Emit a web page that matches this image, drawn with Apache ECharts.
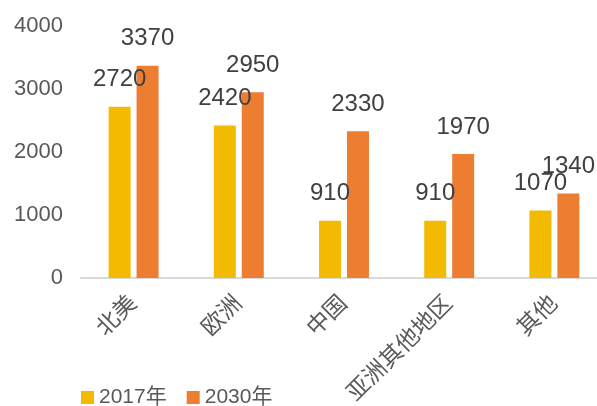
<!DOCTYPE html>
<html>
<head>
<meta charset="utf-8">
<script src="https://cdn.jsdelivr.net/npm/echarts@6/dist/echarts.min.js"></script>
<style>
  html, body { margin: 0; padding: 0; background: #fff; }
  #chart { width: 597px; height: 406px; }
</style>
</head>
<body>
<div id="chart"></div>
<script>
const categories = ["北美", "欧洲", "中国", "亚洲其他地区", "其他"];
const values2017 = [2720, 2420, 910, 910, 1070];
const values2030 = [3370, 2950, 2330, 1970, 1340];
const yTicks = [0, 1000, 2000, 3000, 4000];

const font = "Liberation Sans, Arial, Noto Sans CJK SC, sans-serif";

const chart = echarts.init(document.getElementById("chart"));

const labelStyle = {
  show: true,
  position: "top",
  distance: 15,
  fontSize: 24,
  color: "#404040",
  fontFamily: font
};

chart.setOption({
  animation: false,
  textStyle: { fontFamily: font },
  grid: {
    left: 81, top: 26, right: -10, bottom: 128,
    containLabel: false,
    outerBoundsMode: "none"
  },
  legend: {
    left: 81,
    top: 387,
    padding: 0,
    itemWidth: 13,
    itemHeight: 13,
    itemGap: 20,
    icon: "rect",
    textStyle: { fontSize: 21, color: "#595959", fontFamily: font },
    data: ["2017年", "2030年"]
  },
  xAxis: {
    type: "category",
    data: categories,
    axisLine: { lineStyle: { color: "#d9d9d9", width: 2 } },
    axisTick: { show: false },
    axisLabel: {
      rotate: 45,
      interval: 0,
      margin: 22,
      fontSize: 23,
      color: "#595959",
      fontFamily: font
    }
  },
  yAxis: {
    type: "value",
    min: yTicks[0],
    max: yTicks[yTicks.length - 1],
    interval: 1000,
    splitLine: { show: false },
    axisLine: { show: false },
    axisTick: { show: false },
    axisLabel: {
      margin: 18,
      fontSize: 22,
      color: "#595959",
      fontFamily: font,
      formatter: (v) => String(v)
    }
  },
  series: [
    {
      name: "2017年",
      type: "bar",
      data: values2017,
      barWidth: 22,
      barGap: "27%",
      itemStyle: { color: "#F2BA00" },
      label: labelStyle
    },
    {
      name: "2030年",
      type: "bar",
      data: values2030,
      barWidth: 22,
      itemStyle: { color: "#ED7D31" },
      label: labelStyle
    }
  ]
});
</script>
</body>
</html>
